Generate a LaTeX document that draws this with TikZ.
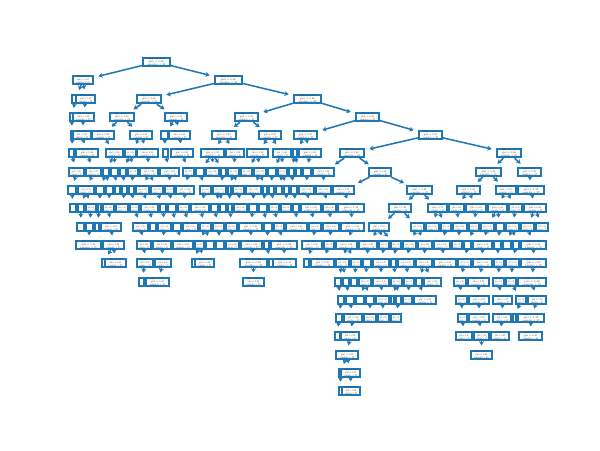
\documentclass[tikz,border=0pt]{standalone}
\usetikzlibrary{arrows.meta}
\definecolor{treeblue}{HTML}{1F77B4}
\tikzset{
  tbox/.style={draw=treeblue, line width=1.2pt, fill=white, rectangle, inner sep=0pt, minimum height=0.2cm},
  treeedge/.style={draw=treeblue, line width=1.1pt, -{Stealth[length=3pt,width=3.6pt]}, shorten >=3.2pt, shorten <=0pt}
}
\newcommand\btext[1]{%
  \pgfmathtruncatemacro\okk{#1>=11 ? 1 : 0}%
  \ifnum\okk=1
    \pgfmathsetlengthmacro\tw{0.62*#1*0.025cm}%
    \resizebox{\tw}{0.125cm}{\fontsize{5}{5.4}\selectfont\color{black!80}\begin{tabular}{@{}c@{}}x[3] <= 0.5\\gini = 0.48\\samples = 25\end{tabular}}%
  \fi}
\gdef\prevlist{}
\newcommand\mkrow[3]{%
  \pgfmathtruncatemacro\pr{#1-1}%
  \gdef\curlist{}%
  \foreach \xa/\xb/\px [count=\i] in {#3} {%
    \pgfmathsetmacro\cx{(\xa+\xb)/2}%
    \pgfmathsetmacro\ww{\xb-\xa}%
    \pgfmathsetmacro\tg{\px==0 ? \cx : \px}%
    \node[tbox, minimum width={\ww*0.025cm-1.2pt}] (r#1b\i) at (\cx,#2) {\btext{\ww}};%
    \gdef\bestd{9000}\gdef\besti{1}%
    \foreach \pc [count=\j] in \prevlist {%
      \pgfmathsetmacro\dd{abs(\pc-\tg)}%
      \pgfmathtruncatemacro\better{\dd<\bestd ? 1 : 0}%
      \ifnum\better=1 \xdef\bestd{\dd}\xdef\besti{\j}\fi
    }%
    \draw[treeedge] (r\pr b\besti) -- (r#1b\i);%
    \ifx\curlist\empty \xdef\curlist{\cx}\else \xdef\curlist{\curlist,\cx}\fi
  }%
  \global\let\prevlist\curlist
}
\begin{document}
\begin{tikzpicture}[x=0.025cm, y=-0.025cm]
\useasboundingbox (0,0) rectangle (600,450);
\node[tbox, minimum width={29*0.025cm-1.2pt}] (r0b1) at (156.5,62) {\btext{29}};
\gdef\prevlist{156.5}
\mkrow{1}{80}{72/94/0, 214/243/0}
\mkrow{2}{99}{71/80/83, 75/96/83, 136/162/228, 293/322/228}
\mkrow{3}{117}{69/74/75, 72/95/85, 109/135/148, 164/188/148, 234/259/307, 355/380/307}
\mkrow{4}{135}{70/75/0, 72/92/0, 91/115/122, 129/153/122, 160/169/176, 168/191/176, 211/237/246, 258/282/246, 293/318/368, 418/443/368}
\mkrow{5}{153}{68/75/0, 75/99/0, 105/124/0, 124/137/0, 136/159/0, 162/169/0, 170/194/0, 200/225/0, 225/245/0, 246/269/0, 272/292/0, 292/298/0, 298/322/0, 339/365/430, 496/522/0}
\mkrow{6}{172}{68/85/0, 85/102/0, 102/110/0, 110/119/0, 119/127/0, 127/139/0, 139/159/0, 159/180/0, 182/195/0, 195/205/0, 205/220/0, 220/227/0, 227/240/0, 240/253/0, 253/267/0, 267/277/0, 277/288/0, 288/295/0, 295/302/0, 302/312/0, 312/335/352, 368/392/0, 475/502/0, 517/542/0}
\mkrow{7}{190}{67/77/0, 77/95/0, 95/105/0, 105/114/0, 114/121/0, 121/128/0, 128/135/0, 135/150/0, 150/164/0, 164/175/0, 175/195/0, 199/212/0, 212/227/0, 227/232/0, 232/245/0, 245/262/0, 262/268/0, 268/275/0, 275/283/0, 283/290/0, 290/298/0, 298/315/0, 315/332/0, 332/355/380, 406/433/0, 456/481/0, 495/517/0, 517/545/0}
\mkrow{8}{208}{69/77/0, 77/85/0, 85/97/0, 97/102/0, 102/115/0, 115/129/0, 129/140/0, 140/159/0, 159/167/0, 167/177/0, 177/190/0, 190/210/0, 210/219/0, 219/227/0, 227/233/0, 233/248/0, 248/258/0, 258/268/0, 268/280/0, 280/292/0, 292/300/0, 300/322/0, 322/337/0, 337/365/0, 388/412/0, 427/448/0, 448/465/0, 465/487/0, 487/508/0, 508/523/0, 523/547/0}
\mkrow{9}{227}{76/85/0, 85/94/0, 94/100/0, 100/122/0, 132/149/0, 149/157/0, 157/172/0, 172/182/0, 182/199/0, 199/212/0, 212/225/0, 225/238/0, 238/263/0, 263/273/0, 273/285/0, 285/308/0, 308/322/0, 322/340/0, 340/365/0, 368/390/0, 410/425/0, 425/440/0, 440/452/0, 452/468/0, 468/480/0, 480/495/0, 495/505/0, 505/520/0, 520/535/0, 535/549/0}
\mkrow{10}{245}{75/102/0, 102/125/0, 136/152/0, 152/172/0, 172/194/0, 194/205/0, 205/215/0, 215/225/0, 225/240/0, 240/263/0, 263/270/0, 270/298/0, 301/323/0, 323/335/0, 335/358/0, 358/378/0, 378/390/0, 390/402/0, 402/417/0, 417/433/0, 433/451/0, 451/463/0, 463/472/0, 472/493/0, 493/502/0, 502/512/0, 512/520/0, 520/547/0}
\mkrow{11}{263}{101/106/0, 104/127/0, 136/154/0, 154/172/0, 191/196/0, 194/215/0, 239/268/0, 268/274/0, 272/297/0, 303/310/0, 310/335/0, 335/350/0, 350/362/0, 362/372/0, 372/390/0, 390/397/0, 397/415/0, 415/433/0, 433/457/0, 457/472/0, 472/493/0, 493/505/0, 505/520/0, 520/547/0}
\mkrow{12}{282}{138/145/0, 145/170/0, 242/265/0, 334/342/0, 342/350/0, 350/358/0, 358/372/0, 372/390/0, 390/403/0, 403/415/0, 415/423/0, 423/442/0, 453/467/0, 467/490/0, 492/505/0, 505/517/0, 517/547/0}
\mkrow{13}{300}{337/345/0, 345/355/0, 355/365/0, 365/375/0, 375/390/0, 390/395/0, 395/402/0, 402/413/0, 413/437/0, 455/468/0, 468/490/0, 492/513/0, 515/527/0, 527/547/0}
\mkrow{14}{318}{335/343/0, 343/363/0, 363/377/0, 377/390/0, 390/402/0, 457/468/0, 468/490/0, 492/512/0, 512/517/0, 517/545/0}
\mkrow{15}{336}{334/341/0, 340/360/0, 455/473/0, 473/490/0, 490/510/0, 518/543/0}
\mkrow{16}{355}{335/359/0, 470/493/0}
\mkrow{17}{373}{338/343/0, 340/361/0}
\mkrow{18}{391}{338/343/0, 341/361/0}
\end{tikzpicture}
\end{document}
